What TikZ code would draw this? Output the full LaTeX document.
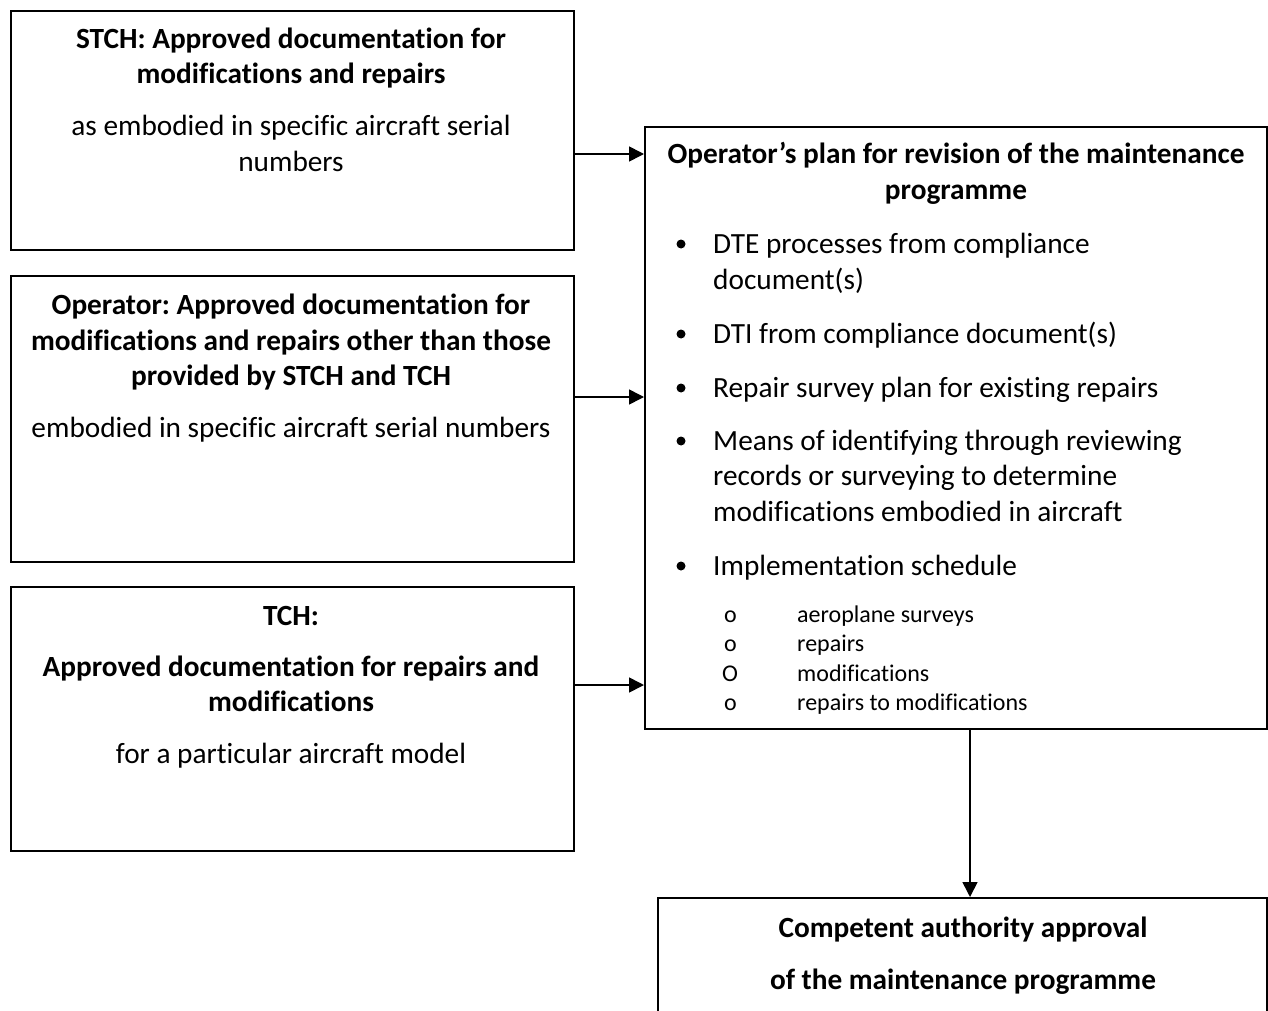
\documentclass[tikz,border=0pt]{standalone}
\usepackage{fontspec}
\setmainfont{Carlito}[Ligatures=NoCommon]
\frenchspacing
\usetikzlibrary{arrows.meta}
\tikzset{
  boxst/.style={draw, line width=1.6pt, inner sep=0pt, anchor=north west},
  arr/.style={line width=1.6pt, -{Triangle[length=15pt,width=15pt]}},
  bt/.style={font=\fontsize{29.3}{34}\selectfont\bfseries, anchor=base, inner sep=0pt},
  nt/.style={font=\fontsize{29.3}{34}\selectfont, anchor=base, inner sep=0pt},
  lt/.style={font=\fontsize{29.3}{34}\selectfont, anchor=base west, inner sep=0pt},
  st/.style={font=\fontsize{24}{28}\selectfont, anchor=base west, inner sep=0pt},
}
\begin{document}
\begin{tikzpicture}[x=1pt,y=-1pt]
\clip (0,0) rectangle (1268,1011);
\fill[white] (0,0) rectangle (1268,1011);
% boxes
\node[boxst, minimum width=563pt, minimum height=239pt] (b1) at (10,10) {};
\node[boxst, minimum width=563pt, minimum height=286pt] (b2) at (10,275) {};
\node[boxst, minimum width=563pt, minimum height=264pt] (b3) at (10,586) {};
\node[boxst, minimum width=622pt, minimum height=602pt] (r) at (644,126) {};
\node[boxst, minimum width=609pt, minimum height=140pt] (c) at (657,897) {};
% box 1 text
\node[bt] (b1t1) at (291,49) {STCH: Approved documentation for};
\node[bt] (b1t2) at (291,84) {modifications and repairs};
\node[nt] (b1t3) at (291,136) {as embodied in specific aircraft serial};
\node[nt] (b1t4) at (291,172) {numbers};
% box 2 text
\node[bt] (b2t1) at (291,314) {Operator: Approved documentation for};
\node[bt] (b2t2) at (291,350) {modifications and repairs other than those};
\node[bt] (b2t3) at (291,385) {provided by STCH and TCH};
\node[nt] (b2t4) at (291,437) {embodied in specific aircraft serial numbers};
% box 3 text
\node[bt] (b3t1) at (291,625) {TCH:};
\node[bt] (b3t2) at (291,676) {Approved documentation for repairs and};
\node[bt] (b3t3) at (291,711) {modifications};
\node[nt] (b3t4) at (291,763) {for a particular aircraft model};
% right box
\node[bt] (rt1) at (956,164) {Operator’s plan for revision of the maintenance};
\node[bt] (rt2) at (956,200) {programme};
\foreach \yy/\nm in {244/d1,334/d2,388/d3,441/d4,566/d5}
  \node[circle, fill=black, inner sep=0pt, minimum size=9pt] (\nm) at (681,\yy) {};
\node[lt] (l1) at (713,253) {DTE processes from compliance};
\node[lt] (l1b) at (713,289) {document(s)};
\node[lt] (l2) at (713,343) {DTI from compliance document(s)};
\node[lt] (l3) at (713,397) {Repair survey plan for existing repairs};
\node[lt] (l4) at (713,450) {Means of identifying through reviewing};
\node[lt] (l4b) at (713,485) {records or surveying to determine};
\node[lt] (l4c) at (713,521) {modifications embodied in aircraft};
\node[lt] (l5) at (713,575) {Implementation schedule};
\node[st] (o1) at (724,622) {o};
\node[st] (o2) at (724,651) {o};
\node[st] (o3) at (722,681) {O};
\node[st] (o4) at (724,710) {o};
\node[st] (s1) at (797,622) {aeroplane surveys};
\node[st] (s2) at (797,651) {repairs};
\node[st] (s3) at (797,681) {modifications};
\node[st] (s4) at (797,710) {repairs to modifications};
% bottom box text
\node[bt] (ct1) at (963,937) {Competent authority approval};
\node[bt] (ct2) at (963,989) {of the maintenance programme};
% arrows
\draw[arr] (b1.east |- 0,154) -- (r.west |- 0,154);
\draw[arr] (b2.east |- 0,397) -- (r.west |- 0,397);
\draw[arr] (b3.east |- 0,685) -- (r.west |- 0,685);
\draw[arr] (r.south -| 970,0) -- (c.north -| 970,0);
\end{tikzpicture}
\end{document}
